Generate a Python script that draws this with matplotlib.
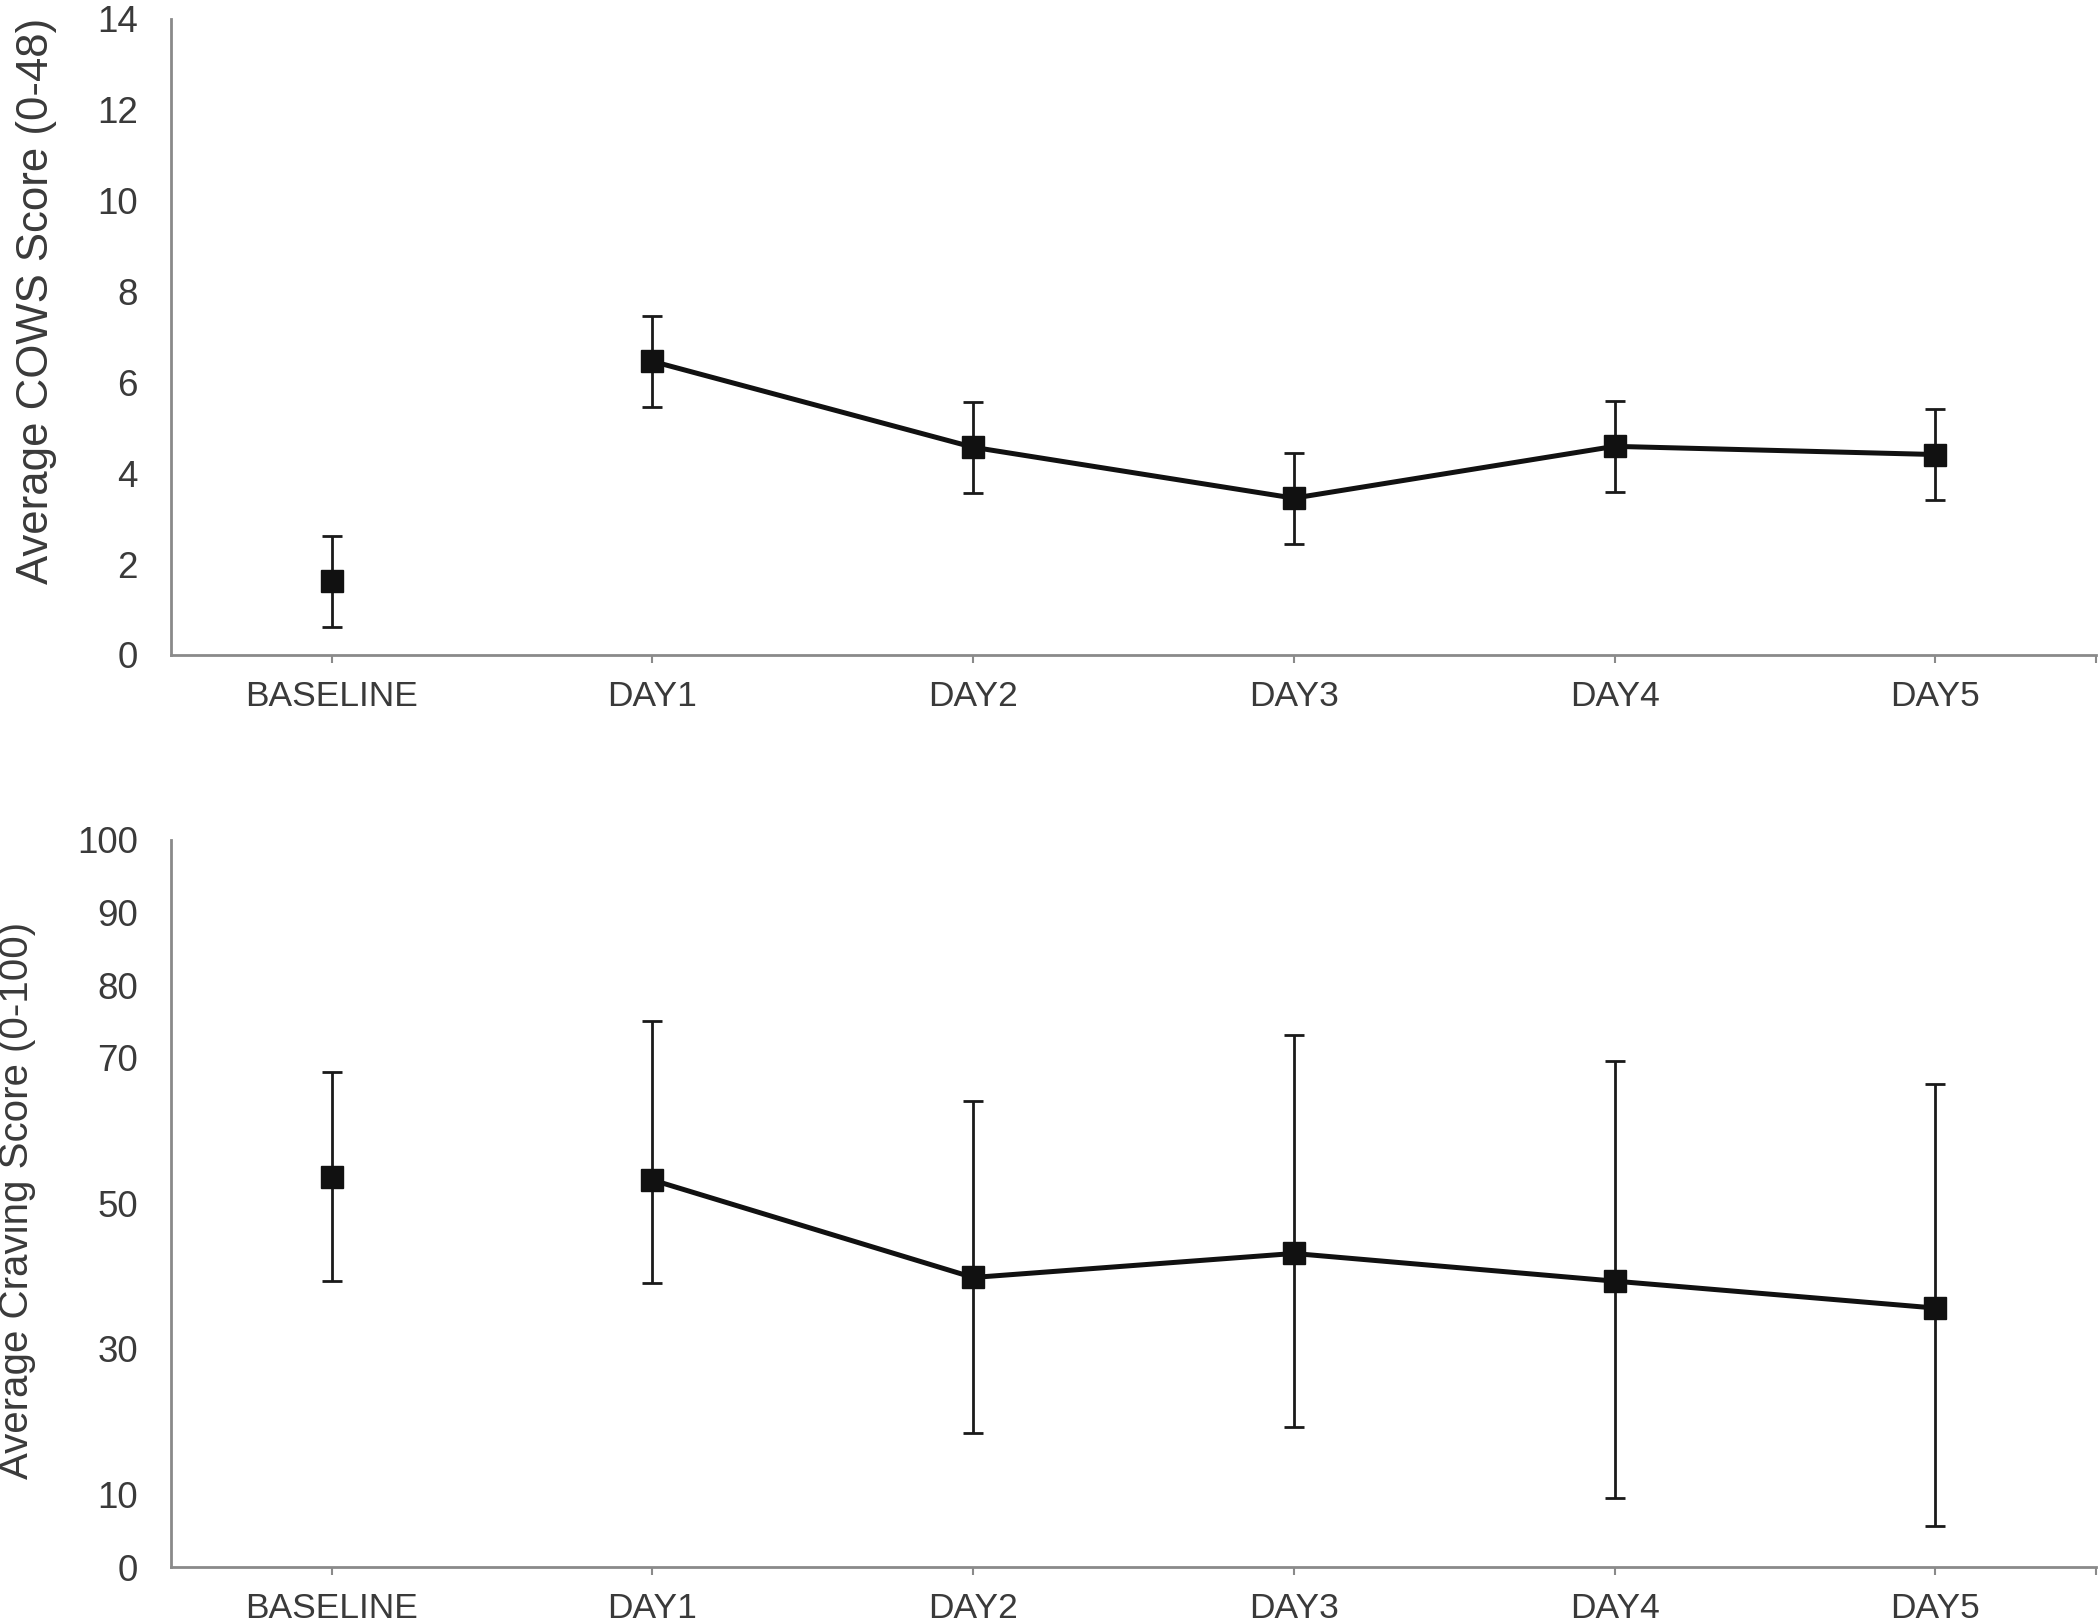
import matplotlib.pyplot as plt
import numpy as np

plt.rcParams["font.family"] = ["Liberation Sans", "DejaVu Sans"]

categories = ["BASELINE", "DAY1", "DAY2", "DAY3", "DAY4", "DAY5"]

# COWS withdrawal score, mean and symmetric error
cows_mean = [1.62, 6.46, 4.57, 3.45, 4.59, 4.41]
cows_err = [1.0, 1.0, 1.0, 1.0, 1.0, 1.0]

# craving score, mean with lower / upper error ends
craving_mean = [53.6, 53.2, 39.8, 43.1, 39.3, 35.6]
craving_low = [39.3, 39.0, 18.4, 19.2, 9.5, 5.6]
craving_high = [68.0, 75.0, 64.0, 73.2, 69.5, 66.4]

TEXT = "#3a3a3a"
SPINE = "#8a8a8a"


def style_axis(ax, ymax, yticks, ylabel, label_size, label_x, label_y):
    x = np.arange(len(categories)) + 0.5
    ax.set_xlim(0, len(categories))
    ax.set_ylim(0, ymax)
    ax.set_xticks(x)
    ax.set_xticklabels(categories)
    ax.set_xticks([len(categories)], minor=True)
    ax.set_yticks(yticks)
    for side in ("top", "right"):
        ax.spines[side].set_visible(False)
    for side in ("left", "bottom"):
        ax.spines[side].set_color(SPINE)
        ax.spines[side].set_linewidth(2)
    ax.tick_params(axis="x", which="both", length=6, width=1.5, color=SPINE,
                   labelsize=25.5, labelcolor=TEXT, pad=12)
    ax.tick_params(axis="y", length=0, labelsize=26.5, labelcolor=TEXT, pad=24)
    ax.set_ylabel(ylabel, fontsize=label_size, color=TEXT)
    ax.yaxis.set_label_coords(label_x, label_y)
    return x


fig = plt.figure(figsize=(21, 16.22), dpi=100)
ax1 = fig.add_axes([0.0816, 0.5962, 0.9163, 0.3923])
ax2 = fig.add_axes([0.0816, 0.0339, 0.9163, 0.4485])

x = style_axis(ax1, 14, range(0, 15, 2), "Average COWS Score (0-48)",
               31.5, -0.0595, 0.556)
ax1.errorbar(x, cows_mean, yerr=cows_err, fmt="none", ecolor="#1a1a1a",
             elinewidth=2, capsize=7, capthick=2, zorder=2)
ax1.plot(x[1:], cows_mean[1:], color="#111111", linewidth=3.6, zorder=3)
ax1.plot(x, cows_mean, linestyle="none", marker="s", markersize=16.5,
         color="#111111", zorder=4)

x = style_axis(ax2, 100, [0, 10, 30, 50, 70, 80, 90, 100],
               "Average Craving Score (0-100)", 29, -0.0705, 0.504)
mean = np.array(craving_mean)
yerr = [mean - np.array(craving_low), np.array(craving_high) - mean]
ax2.errorbar(x, mean, yerr=yerr, fmt="none", ecolor="#1a1a1a",
             elinewidth=2, capsize=7, capthick=2, zorder=2)
ax2.plot(x[1:], mean[1:], color="#111111", linewidth=3.6, zorder=3)
ax2.plot(x, mean, linestyle="none", marker="s", markersize=16.5,
         color="#111111", zorder=4)

fig.savefig("out.png", dpi=100)
plt.close(fig)
